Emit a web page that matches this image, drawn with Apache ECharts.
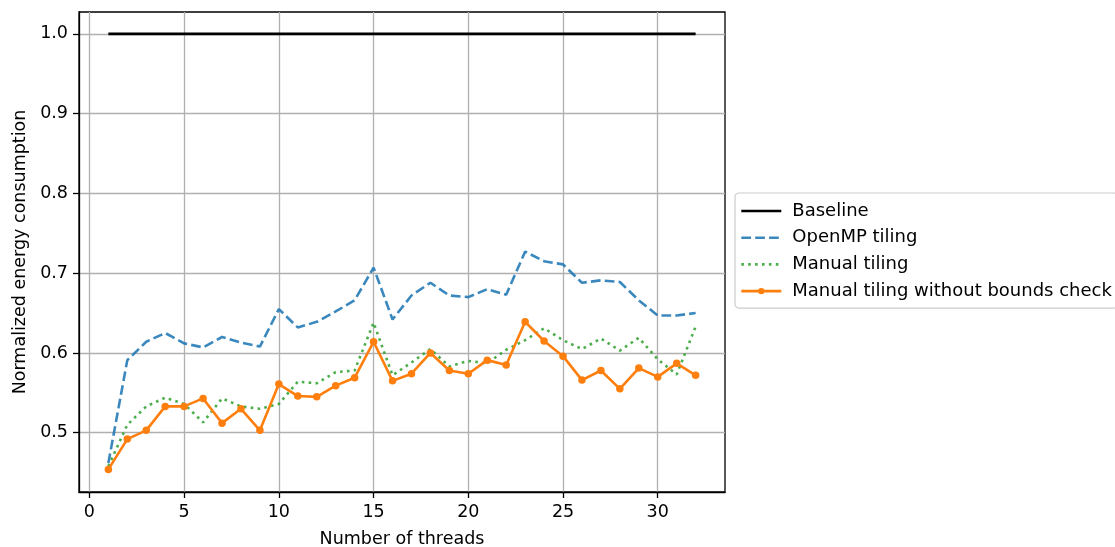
<!DOCTYPE html>
<html>
<head>
<meta charset="utf-8">
<script src="https://cdn.jsdelivr.net/npm/echarts@6/dist/echarts.min.js"></script>
<style>
  html, body { margin: 0; padding: 0; background: #ffffff; }
  #chart { width: 1115px; height: 547px; }
</style>
</head>
<body>
<div id="chart"></div>
<script>
// Thread counts on the x axis
const threads = [1, 2, 3, 4, 5, 6, 7, 8, 9, 10, 11, 12, 13, 14, 15, 16,
                 17, 18, 19, 20, 21, 22, 23, 24, 25, 26, 27, 28, 29, 30, 31, 32];

// Energy consumption normalised to the baseline run
const baseline = [1, 1, 1, 1, 1, 1, 1, 1, 1, 1, 1, 1, 1, 1, 1, 1,
                  1, 1, 1, 1, 1, 1, 1, 1, 1, 1, 1, 1, 1, 1, 1, 1];
const openmpTiling = [0.462, 0.591, 0.614, 0.625, 0.612, 0.607, 0.620, 0.613, 0.608, 0.655, 0.632, 0.639,
                      0.652, 0.666, 0.707, 0.642, 0.672, 0.688, 0.672, 0.670, 0.680, 0.673, 0.727, 0.715,
                      0.711, 0.688, 0.691, 0.689, 0.666, 0.647, 0.647, 0.650];
const manualTiling = [0.458, 0.510, 0.533, 0.544, 0.536, 0.513, 0.543, 0.533, 0.530, 0.536, 0.564, 0.562,
                      0.576, 0.578, 0.638, 0.572, 0.588, 0.605, 0.583, 0.590, 0.587, 0.604, 0.616, 0.631,
                      0.616, 0.605, 0.618, 0.603, 0.619, 0.592, 0.573, 0.633];
const manualNoBounds = [0.454, 0.492, 0.503, 0.533, 0.533, 0.543, 0.512, 0.530, 0.503, 0.561, 0.546, 0.545,
                        0.559, 0.569, 0.614, 0.565, 0.574, 0.600, 0.578, 0.574, 0.591, 0.585, 0.639, 0.615,
                        0.596, 0.566, 0.578, 0.555, 0.581, 0.570, 0.587, 0.572];

// Tick positions
const xTicks = [0, 5, 10, 15, 20, 25, 30];
const yTicks = [0.5, 0.6, 0.7, 0.8, 0.9, 1.0];

const pairs = (ys) => threads.map((t, i) => [t, ys[i]]);

const FONT = 'DejaVu Sans';
const FS = 17.5;
const LW = 2.6;

const chart = echarts.init(document.getElementById('chart'), null, { renderer: 'canvas' });

const noMarker = { opacity: 0 };

chart.setOption({
  animation: false,
  backgroundColor: '#ffffff',
  textStyle: { fontFamily: FONT, color: '#000' },
  grid: {
    left: 79, right: 390, top: 12, bottom: 55,
    containLabel: false, outerBoundsMode: 'none',
    show: true, borderColor: '#000', borderWidth: 1.3, backgroundColor: 'transparent'
  },
  legend: {
    orient: 'vertical',
    left: 735, top: 193,
    padding: [8, 6, 7, 5],
    itemWidth: 40, itemHeight: 8, itemGap: 6.7,
    backgroundColor: 'rgba(255,255,255,0.8)',
    borderColor: '#cccccc', borderWidth: 1.2, borderRadius: 4,
    textStyle: { fontFamily: FONT, fontSize: 18, color: '#000', padding: [0, 0, 0, 6], lineHeight: 20 },
    data: [
      { name: 'Baseline', itemStyle: noMarker, lineStyle: { width: LW } },
      { name: 'OpenMP tiling', itemStyle: noMarker, lineStyle: { width: LW } },
      { name: 'Manual tiling', itemStyle: noMarker, lineStyle: { width: LW } },
      { name: 'Manual tiling without bounds check', lineStyle: { width: LW } }
    ]
  },
  xAxis: {
    type: 'value',
    min: -0.55, max: 33.55,
    name: 'Number of threads',
    nameLocation: 'middle', nameGap: 38,
    nameTextStyle: { fontFamily: FONT, fontSize: FS, color: '#000' },
    axisLine: { show: true, onZero: false, lineStyle: { color: '#000', width: 1.3 } },
    axisTick: { show: true, customValues: xTicks, length: 6, lineStyle: { color: '#000', width: 1.3 } },
    axisLabel: { customValues: xTicks, margin: 11, fontFamily: FONT, fontSize: FS, color: '#000' },
    splitLine: { show: true, lineStyle: { color: '#b0b0b0', width: 1.3 } }
  },
  yAxis: {
    type: 'value',
    min: 0.4257, max: 1.0274,
    name: 'Normalized energy consumption',
    nameLocation: 'middle', nameGap: 48,
    nameTextStyle: { fontFamily: FONT, fontSize: FS, color: '#000' },
    axisLine: { show: true, onZero: false, lineStyle: { color: '#000', width: 1.3 } },
    axisTick: { show: true, customValues: yTicks, length: 6, lineStyle: { color: '#000', width: 1.3 } },
    axisLabel: {
      customValues: yTicks, margin: 11, fontFamily: FONT, fontSize: FS, color: '#000',
      formatter: (v) => v.toFixed(1)
    },
    splitLine: { show: true, lineStyle: { color: '#b0b0b0', width: 1.3 } }
  },
  series: [
    {
      name: 'Baseline', type: 'line', data: pairs(baseline),
      symbol: 'none', lineStyle: { color: '#000000', width: LW }, itemStyle: { color: '#000000' },
      z: 2
    },
    {
      name: 'OpenMP tiling', type: 'line', data: pairs(openmpTiling),
      symbol: 'none',
      lineStyle: { color: '#1f77b4', width: LW, type: [9.7, 4.2], opacity: 0.88 },
      itemStyle: { color: '#1f77b4' },
      z: 3
    },
    {
      name: 'Manual tiling', type: 'line', data: pairs(manualTiling),
      symbol: 'none',
      lineStyle: { color: '#2ca02c', width: LW, type: [2.6, 4.3], opacity: 0.85 },
      itemStyle: { color: '#2ca02c' },
      z: 4
    },
    {
      name: 'Manual tiling without bounds check', type: 'line', data: pairs(manualNoBounds),
      symbol: 'circle', symbolSize: 7.5, showSymbol: true,
      lineStyle: { color: '#ff7f0e', width: LW },
      itemStyle: { color: '#ff7f0e' },
      z: 5
    }
  ]
});
</script>
</body>
</html>
